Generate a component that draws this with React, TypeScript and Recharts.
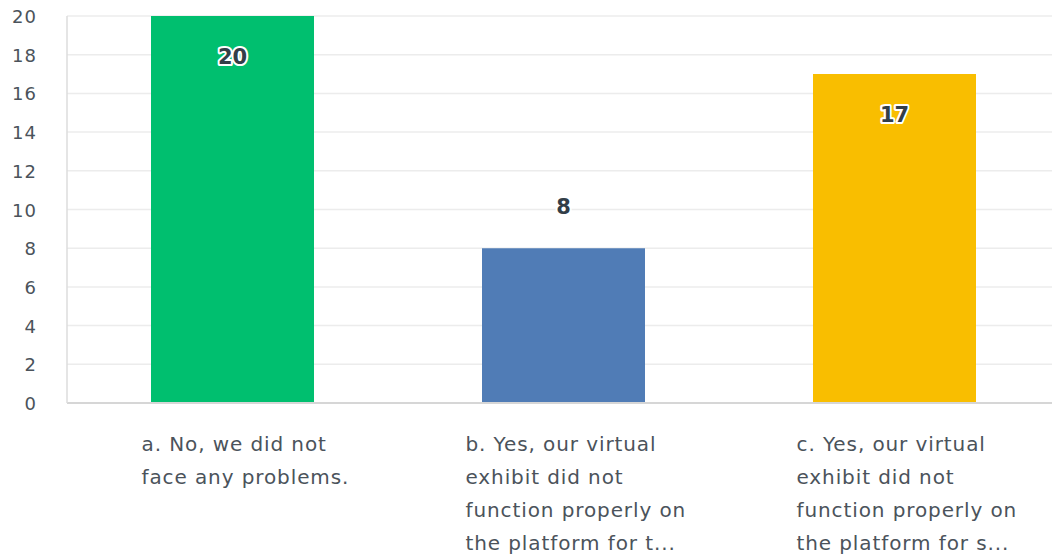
import React from "react";
import { BarChart, Bar, XAxis, YAxis, CartesianGrid, Cell, LabelList } from "recharts";

const categories = ["a", "b", "c"];
const counts = [20, 8, 17];
const barColors = ["#00bf6f", "#507cb6", "#f9be00"];
const tickLabelLines = [
  ["a. No, we did not", "face any problems."],
  ["b. Yes, our virtual", "exhibit did not", "function properly on", "the platform for t..."],
  ["c. Yes, our virtual", "exhibit did not", "function properly on", "the platform for s..."],
];
const yTicks = [0, 2, 4, 6, 8, 10, 12, 14, 16, 18, 20];

const data = categories.map((c, i) => ({ name: c, value: counts[i] }));

const FONT = "'DejaVu Sans', sans-serif";
const tickLeftOffsets = [-91, -98, -98];

const XTick = (props: any) => {
  const { x, y, payload } = props;
  const idx = categories.indexOf(payload.value);
  const lines = tickLabelLines[idx] || [];
  return (
    <g>
      {lines.map((l, i) => (
        <text
          key={i}
          x={x + tickLeftOffsets[idx]}
          y={y + 40 + i * 33}
          textAnchor="start"
          fontFamily={FONT}
          fontSize={20}
          letterSpacing={0.9}
          fill="#4b535b"
        >
          {l}
        </text>
      ))}
    </g>
  );
};

const YTick = (props: any) => {
  const { y, payload } = props;
  return (
    <text x={37} y={y + 7} textAnchor="end" fontFamily={FONT} fontSize={18} letterSpacing={1} fill="#4b535b">
      {payload.value}
    </text>
  );
};

const ValueLabel = (props: any) => {
  const { x, y, width, height, value } = props;
  const inside = height > 200;
  const cy = inside ? y + 40 : y - 42;
  return (
    <text
      x={x + width / 2}
      y={cy + 8}
      textAnchor="middle"
      fontFamily={FONT}
      fontSize={21}
      fontWeight={700}
      fill="#333e48"
      stroke="#ffffff"
      strokeWidth={4}
      strokeLinejoin="round"
      style={{ paintOrder: "stroke" }}
    >
      {value}
    </text>
  );
};

export default function App() {
  return (
    <div style={{ position: "absolute", left: 0, top: 0, width: 1052, height: 556, overflow: "hidden", background: "#fff" }}>
      <BarChart
        width={1060}
        height={556}
        data={data}
        margin={{ top: 16, right: 0, bottom: 0, left: 0 }}
      >
        <CartesianGrid vertical={false} stroke="#ececec" strokeWidth={1.5} />
        <XAxis
          dataKey="name"
          tick={<XTick />}
          tickLine={false}
          axisLine={{ stroke: "#d6d6d6", strokeWidth: 2 }}
          height={153}
          interval={0}
        />
        <YAxis
          domain={[0, 20]}
          ticks={yTicks}
          tick={<YTick />}
          tickLine={false}
          axisLine={{ stroke: "#dcdcdc", strokeWidth: 1.5 }}
          width={67}
          interval={0}
        />
        <Bar dataKey="value" barSize={163} isAnimationActive={false}>
          {data.map((d, i) => (
            <Cell key={d.name} fill={barColors[i]} />
          ))}
          <LabelList dataKey="value" content={<ValueLabel />} />
        </Bar>
      </BarChart>
    </div>
  );
}
